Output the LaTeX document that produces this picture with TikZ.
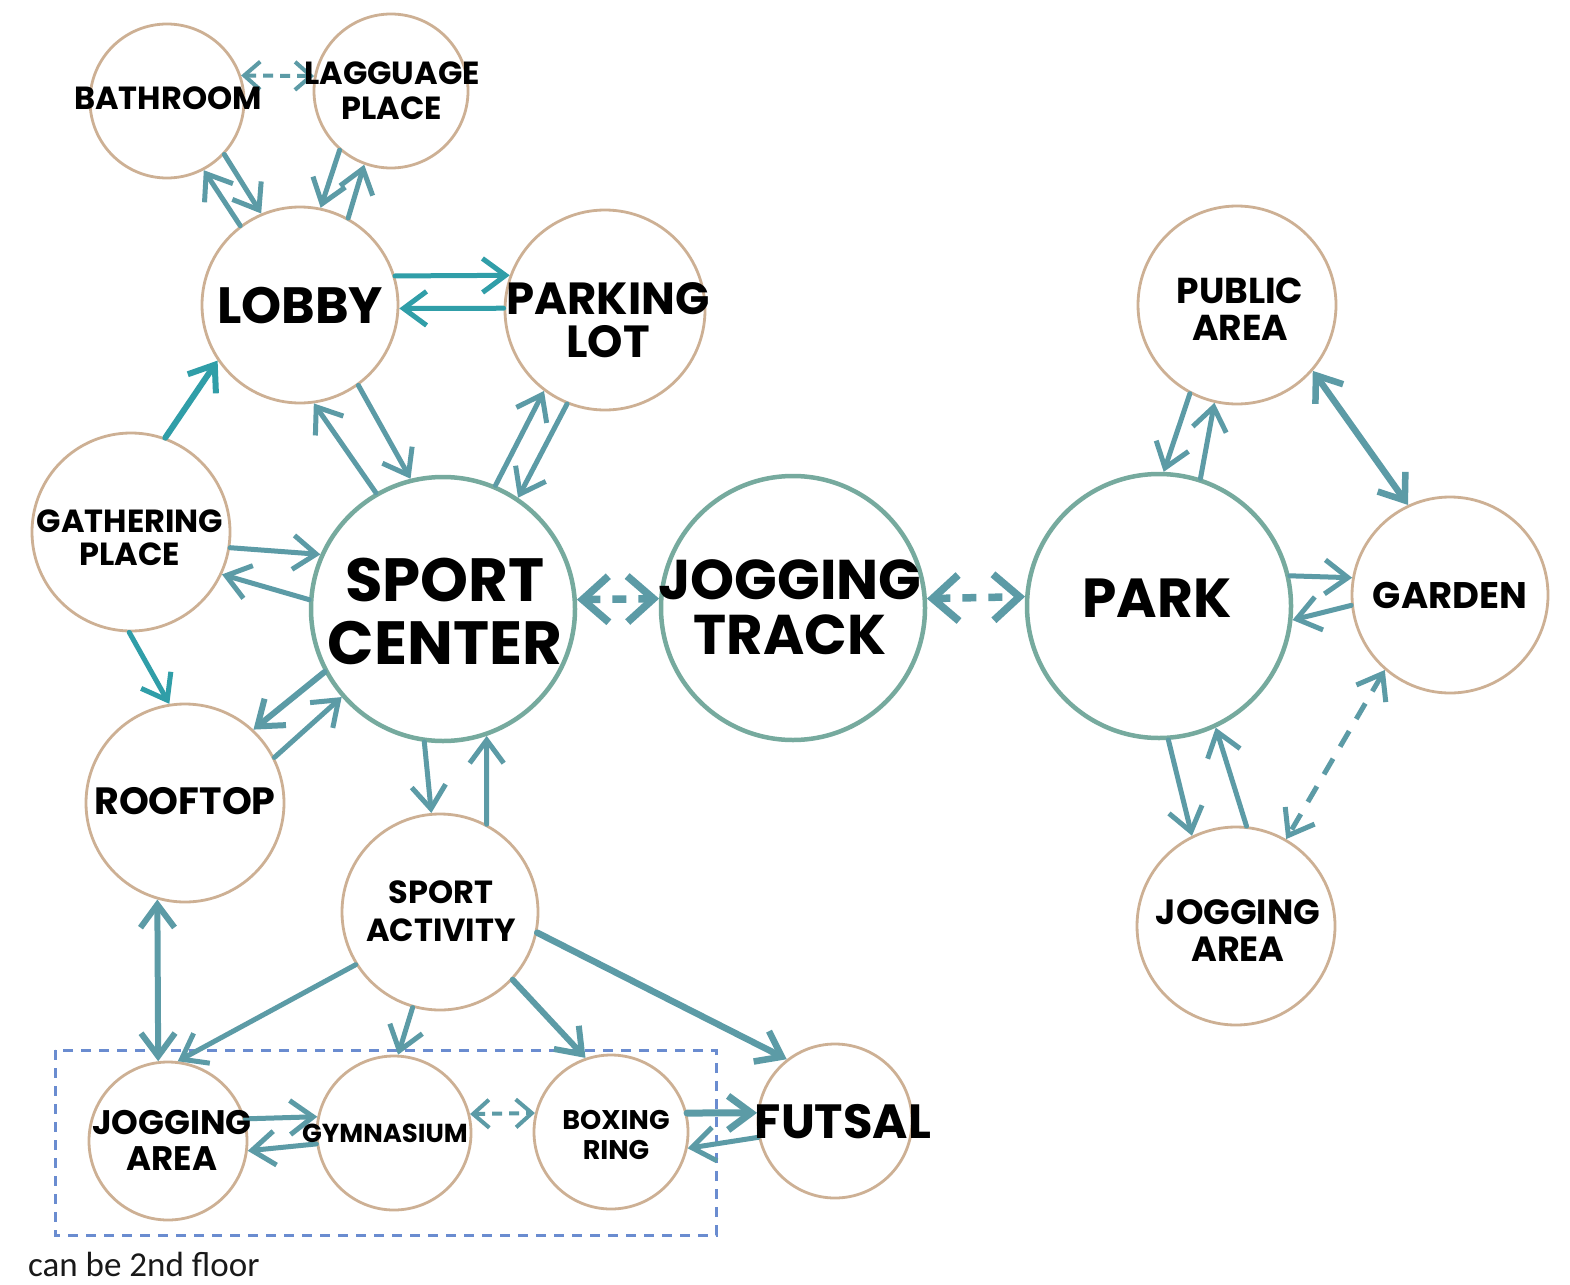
\documentclass[tikz,border=0pt]{standalone}
\usepackage{fontspec}
\setmainfont{Carlito}
\newfontfamily\handfont{Poppins}
\usetikzlibrary{arrows.meta}

\definecolor{ringteal}{RGB}{118,170,158}
\definecolor{ringtan}{RGB}{205,176,148}
\definecolor{linkc}{RGB}{92,155,166}
\definecolor{linkcy}{RGB}{48,158,168}
\definecolor{boxblue}{RGB}{106,140,208}

\begin{document}
\begin{tikzpicture}[x=1pt,y=-1pt,
  hub/.style={circle,draw=ringteal,line width=4.5pt,inner sep=0pt,fill=white,minimum size=#1},
  room/.style={circle,draw=ringtan,line width=2.8pt,inner sep=0pt,fill=white,minimum size=#1},
  lbl/.style 2 args={align=center,inner sep=0pt,text=black,
    font=\handfont\bfseries\fontsize{#1}{#2}\selectfont},
  link/.style={draw=linkc,line width=5pt,line cap=round},
  vivid/.style={draw=linkcy},
  tip/.style={-{Straight Barb[length=23pt,width=34pt]}},
  tips/.style={{Straight Barb[length=23pt,width=34pt]}-{Straight Barb[length=23pt,width=34pt]}},
  finedash/.style={draw=linkc,line width=4pt,dash pattern=on 10pt off 7pt,
    {Straight Barb[length=16pt,width=28pt]}-{Straight Barb[length=16pt,width=28pt]}},
  bigdash/.style={draw=linkc,line width=7.5pt,dash pattern=on 14pt off 12pt,
    {Straight Barb[length=26pt,width=46pt]}-{Straight Barb[length=26pt,width=46pt]}},
  longdash/.style={draw=linkc,line width=5pt,dash pattern=on 18pt off 14pt,
    {Straight Barb[length=23pt,width=34pt]}-{Straight Barb[length=23pt,width=34pt]}},
]
\useasboundingbox[fill=white] (0,0) rectangle (1570,1284);

% second-floor group
\draw[boxblue,line width=3pt,dash pattern=on 10pt off 8pt] (55,1050) rectangle (716,1235);

% hubs
\node[hub=264pt] (sc)   at (443,609)  {};
\node[hub=264pt] (jt)   at (793,608)  {};
\node[hub=264pt] (park) at (1159,606) {};

% rooms
\node[room=154pt] (bath)  at (167,101)  {};
\node[room=154pt] (lug)   at (391,91)   {};
\node[room=196pt] (lobby) at (300,305)  {};
\node[room=200pt] (plot)  at (605,310)  {};
\node[room=198pt] (gath)  at (131,532)  {};
\node[room=198pt] (roof)  at (185,803)  {};
\node[room=196pt] (sa)    at (440,912)  {};
\node[room=158pt] (jal)   at (168,1141) {};
\node[room=154pt] (gym)   at (394,1133) {};
\node[room=154pt] (box)   at (611,1132) {};
\node[room=154pt] (fut)   at (835,1121) {};
\node[room=198pt] (pub)   at (1237,305) {};
\node[room=196pt] (gard)  at (1450,595) {};
\node[room=198pt] (jar)   at (1236,926) {};

% connectors
\draw[finedash] (bath.19) -- (lug.169);
\draw[link,tip] (lobby.127) -- (bath.-62);
\draw[link,tip] (bath.-43) -- (lobby.113);
\draw[link,tip] (lug.229) -- (lobby.78);
\draw[link,tip] (lobby.61) -- (lug.-110);
\draw[link,vivid,tip] (lobby.17) -- (plot.160);
\draw[link,vivid,tip] (plot.179) -- (lobby.-2);
\draw[link,tip] (sc.120) -- (lobby.-82);
\draw[link,tip] (lobby.-54) -- (sc.104);
\draw[link,tip] (sc.67) -- (plot.-127);
\draw[link,tip] (plot.-112) -- (sc.56);
\draw[link,vivid,line width=6pt,tip] (gath.70) -- (lobby.214);
\draw[link,tip] (gath.-9) -- (sc.156);
\draw[link,tip] (sc.176) -- (gath.-25);
\draw[link,vivid,tip] (gath.-91) -- (roof.99);
\draw[link,line width=6pt,tip] (sc.208) -- (roof.47);
\draw[link,tip] (roof.27) -- (sc.-139);
\draw[link,tip] (sc.-98) -- (sa.95);
\draw[link,tip] (sa.62) -- (sc.-71);
\draw[link,line width=6pt,tips] (roof.-106) -- (jal.97);
\draw[link,tip] (sa.-148) -- (jal.83);
\draw[link,tip] (sa.-106) -- (gym.87);
\draw[link,line width=6pt,tip] (sa.-43) -- (box.109);
\draw[link,line width=6.5pt,tip] (sa.-12) -- (fut.128);
\draw[link,tip] (jal.16) -- (gym.168);
\draw[link,tip] (gym.188) -- (jal.-7);
\draw[finedash] (gym.14) -- (box.166);
\draw[link,line width=7pt,tip] (box.14) -- (fut.174);
\draw[link,tip] (fut.192) -- (box.-12);
\draw[bigdash] (sc.4) -- (jt.176);
\draw[bigdash] (jt.4) -- (park.176);
\draw[link,tip] (pub.-118) -- (park.88);
\draw[link,tip] (park.72) -- (pub.-103);
\draw[link,line width=6.5pt,tips] (pub.-41) -- (gard.115);
\draw[link,tip] (park.13) -- (gard.170);
\draw[link,tip] (gard.186) -- (park.-6);
\draw[link,tip] (park.-86) -- (jar.116);
\draw[link,tip] (jar.84) -- (park.-65);
\draw[longdash] (gard.-131) -- (jar.60);

% labels
\node[lbl={61pt}{63pt}] (sc-t)    at (445,611)  {SPORT\\CENTER};
\node[lbl={56pt}{55pt}] (jt-t)    at (790,607)  {JOGGING\\TRACK};
\node[lbl={55pt}{55pt}] (park-t)  at (1157,598) {PARK};
\node[lbl={51pt}{51pt}] (lobby-t) at (300,306)  {LOBBY};
\node[lbl={45pt}{43pt}] (plot-t)  at (608,320)  {PARKING\\LOT};
\node[lbl={32pt}{33pt}] (gath-t)  at (130,538)  {GATHERING\\PLACE};
\node[lbl={32pt}{32pt}] (bath-t)  at (168,98)   {BATHROOM};
\node[lbl={32pt}{35pt}] (lug-t)   at (392,91)   {LAGGUAGE\\PLACE};
\node[lbl={36pt}{37pt}] (pub-t)   at (1240,309) {PUBLIC\\AREA};
\node[lbl={37pt}{37pt}] (gard-t)  at (1450,595) {GARDEN};
\node[lbl={35pt}{37pt}] (jar-t)   at (1238,931) {JOGGING\\AREA};
\node[lbl={38pt}{38pt}] (roof-t)  at (185,801)  {ROOFTOP};
\node[lbl={32pt}{38pt}] (sa-t)    at (441,911)  {SPORT\\ACTIVITY};
\node[lbl={34pt}{36pt}] (jal-t)   at (172,1140) {JOGGING\\AREA};
\node[lbl={26pt}{26pt}] (gym-t)   at (385,1133) {GYMNASIUM};
\node[lbl={27pt}{30pt}] (box-t)   at (616,1135) {BOXING\\RING};
\node[lbl={48pt}{48pt}] (fut-t)   at (843,1122) {FUTSAL};

\node[anchor=base west,inner sep=0pt,font=\fontsize{35pt}{35pt}\selectfont,text=black!90] (note) at (28,1276) {can be 2nd floor};
\end{tikzpicture}
\end{document}
